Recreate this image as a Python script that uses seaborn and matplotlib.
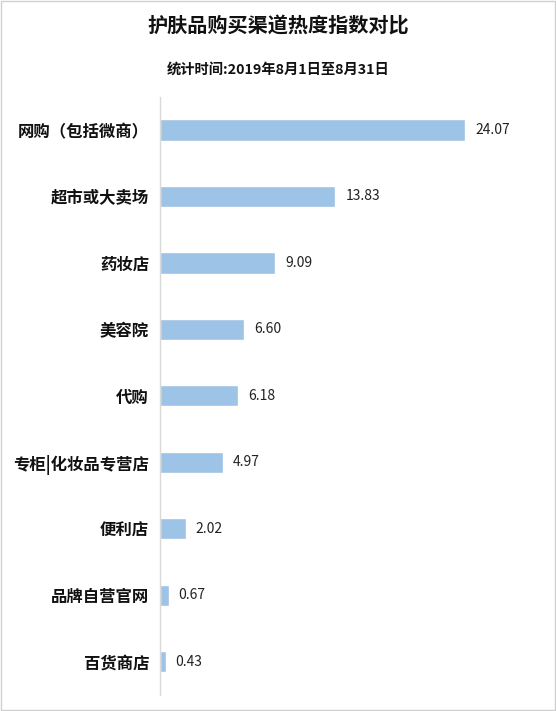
import matplotlib
matplotlib.use('Agg')
import matplotlib.pyplot as plt
import seaborn as sns
import pandas as pd
from matplotlib.patches import Rectangle

# 数据
channels = ['网购（包括微商）', '超市或大卖场', '药妆店', '美容院', '代购',
            '专柜|化妆品专营店', '便利店', '品牌自营官网', '百货商店']
heat = [24.07, 13.83, 9.09, 6.60, 6.18, 4.97, 2.02, 0.67, 0.43]
title = '护肤品购买渠道热度指数对比'
subtitle = '统计时间:2019年8月1日至8月31日'

df = pd.DataFrame({'channel': channels, 'heat': heat})

sns.set_theme(style='white')
plt.rcParams['font.family'] = ['Noto Sans CJK SC', 'DejaVu Sans']

fig = plt.figure(figsize=(5.56, 7.11), dpi=100)
ax = fig.add_axes([0.288, 0.0225, 0.683, 0.8415])

sns.barplot(data=df, x='heat', y='channel', color='#9dc3e6', saturation=1,
            width=0.32, ax=ax)

for i, v in enumerate(heat):
    ax.text(v + 0.8, i, '%.2f' % v, va='center', ha='left', fontsize=10, color='#222222')

ax.set_xlim(0, 30)
ax.set_ylim(8.5, -0.5)
ax.set_xlabel('')
ax.set_ylabel('')
ax.set_xticks([])
ax.tick_params(axis='y', length=0, pad=8, labelsize=11.8)
for t in ax.get_yticklabels():
    t.set_fontweight('bold')
    t.set_color('#111111')
for s in ['top', 'right', 'bottom']:
    ax.spines[s].set_visible(False)
ax.spines['left'].set_color('#d9d9d9')
ax.spines['left'].set_linewidth(1)

fig.text(0.5, 0.963, title, ha='center', va='center', fontsize=14.5, fontweight='bold', color='#111111')
fig.text(0.5, 0.902, subtitle, ha='center', va='center', fontsize=10.3, fontweight='bold', color='#111111')

# 外框
fig.patches.append(Rectangle((0.002, 0.002), 0.996, 0.996, transform=fig.transFigure,
                             fill=False, edgecolor='#d0d0d0', linewidth=1))

fig.savefig('out.png', dpi=100)
